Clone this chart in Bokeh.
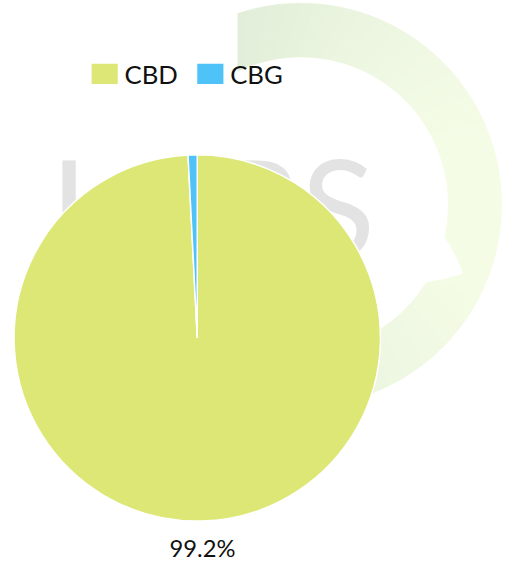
import numpy as np
from bokeh.plotting import figure
from bokeh.models import ColumnDataSource, Range1d
from bokeh.core.properties import value
from bokeh.embed import file_html
from bokeh.resources import INLINE

# ---- data ----
categories = ["CBD", "CBG"]
percentages = [99.2, 0.8]
colors = ["#dce775", "#4fc3f7"]

# ---- figure: data coords == reference pixels (x right, y = 579 - ref_y) ----
W, H = 504, 563
REF_W, REF_H = 520, 579
S = W / REF_W  # font scale
p = figure(width=W, height=H, output_backend="svg", toolbar_location=None,
           x_range=Range1d(0, REF_W), y_range=Range1d(0, REF_H),
           min_border=0)
p.axis.visible = False
p.grid.visible = False
p.outline_line_color = None
p.background_fill_color = "white"
p.border_fill_color = "white"


def Y(ref_y):
    return REF_H - ref_y


def fs(px):
    return f"{px * S:.1f}px"


def mix(c0, c1, t):
    a = np.array([int(c0[i:i + 2], 16) for i in (1, 3, 5)], float)
    b = np.array([int(c1[i:i + 2], 16) for i in (1, 3, 5)], float)
    c = np.clip(a + (b - a) * t, 0, 255).round().astype(int)
    return "#%02x%02x%02x" % tuple(c)


# ---- faint watermark (background logo ring with horizontal gradient) ----
wx, wy, r_out, r_in = 310, Y(210), 207, 152
cut_x = 245
th_o0 = np.degrees(np.arccos((cut_x - wx) / r_out))
th_i0 = np.degrees(np.arccos((cut_x - wx) / r_in))
th_end = -120.0
n = 160
t = np.linspace(0, 1, n + 1)
th_o = np.radians(th_o0 + t * (th_end - th_o0))
th_i_deg = th_i0 + t * (th_end - th_i0)
ri = np.interp(th_i_deg, [-31.7, -22.9, -12.6], [r_in, 182, r_in])
th_i = np.radians(th_i_deg)
ox, oy = wx + r_out * np.cos(th_o), wy + r_out * np.sin(th_o)
ix, iy = wx + ri * np.cos(th_i), wy + ri * np.sin(th_i)
qxs, qys, qc = [], [], []
for k in range(n):
    xs = [ox[k], ox[k + 1], ix[k + 1], ix[k]]
    ys = [oy[k], oy[k + 1], iy[k + 1], iy[k]]
    qxs.append(xs)
    qys.append(ys)
    qc.append(mix("#e2eed9", "#f7fee8", (np.mean(xs) - cut_x) / (517 - cut_x)))
p.patches(xs=qxs, ys=qys, fill_color=qc, line_color=qc, line_width=0.8)

p.text(x=[51], y=[Y(210)], text=["LABS"], text_font=value("Lato"),
       text_font_size=fs(141), text_color="#e3e3e3",
       text_baseline="middle", text_align="left")

# ---- pie ----
cx, cy, r = 203, Y(347), 189
frac = np.array(percentages) / sum(percentages)
cum = np.concatenate([[0.0], np.cumsum(frac)])
start = np.pi / 2 - 2 * np.pi * cum[:-1]
end = np.pi / 2 - 2 * np.pi * cum[1:]
src = ColumnDataSource(dict(cat=categories, pct=percentages, color=colors,
                            start=start, end=end))
p.wedge(x=cx, y=cy, radius=r, start_angle="start", end_angle="end",
        direction="clock", fill_color="color", line_color="white",
        line_width=1.5, source=src)

# ---- outside labels (only for slices large enough) ----
mid = (start + end) / 2
lr = r + 27
lab = [(f"{v}%", cx + lr * np.cos(m), cy + lr * np.sin(m))
       for v, m in zip(percentages, mid) if v >= 5]
lab_src = ColumnDataSource(dict(text=[t_ for t_, _, _ in lab],
                                x=[x for _, x, _ in lab],
                                y=[y for _, _, y in lab]))
p.text(x="x", y="y", text="text", source=lab_src, text_font=value("Lato"),
       text_font_size=fs(24.5), text_color="#111111",
       text_align="center", text_baseline="middle")

# ---- legend (manual, top) ----
lx0, pitch, ly = 94, 109, Y(75.5)
sq_w, sq_h = 27, 21
leg_src = ColumnDataSource(dict(
    x=[lx0 + sq_w / 2 + i * pitch for i in range(len(categories))],
    tx=[lx0 + sq_w + 7 + i * pitch for i in range(len(categories))],
    y=[ly] * len(categories), text=categories, color=colors))
p.rect(x="x", y="y", width=sq_w, height=sq_h, fill_color="color",
       line_color=None, source=leg_src)
p.text(x="tx", y="y", text="text", source=leg_src, text_font=value("Lato"),
       text_font_size=fs(26.5), text_color="#111111",
       text_align="left", text_baseline="middle")

open("out.html", "w").write(file_html(p, INLINE))
